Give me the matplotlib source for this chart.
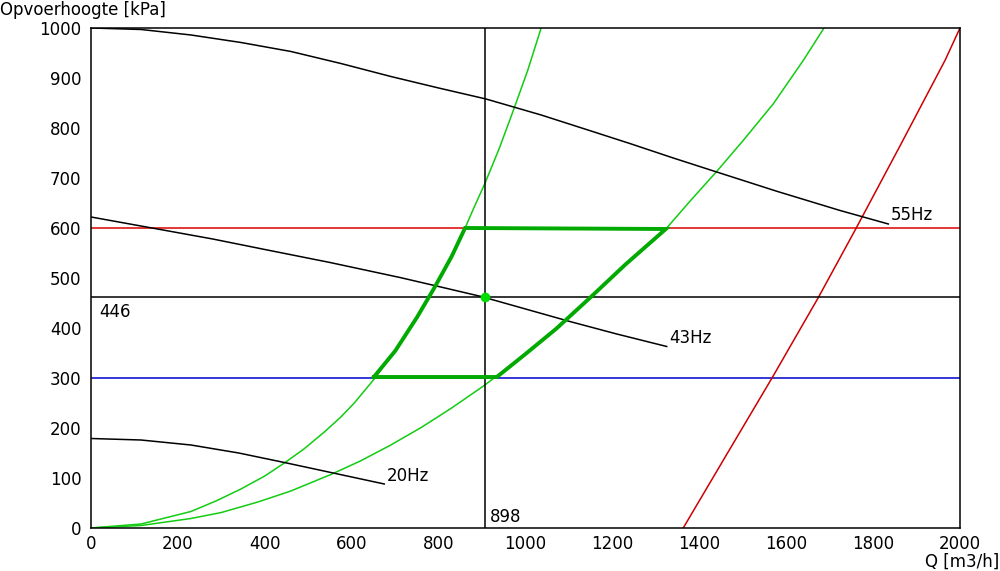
import numpy as np
import matplotlib
matplotlib.use("Agg")
import matplotlib.pyplot as plt

# pump curves (Q [m3/h], H [kPa])
q55 = [0, 115, 230, 345, 460, 575, 690, 800, 909, 1036, 1140, 1240, 1340, 1440, 1580, 1724, 1835]
h55 = [1000, 997, 986, 971, 953, 929, 903, 880, 858, 826, 797, 769, 740, 712, 673, 635, 608]
q43 = [0, 153, 280, 400, 550, 711, 800, 898, 1000, 1102, 1210, 1325]
h43 = [622, 598, 578, 557, 531, 501, 483, 463, 438, 413, 388, 363]
q20 = [0, 115, 230, 340, 445, 552, 675]
h20 = [179, 176, 166, 150, 131, 111, 88]

# system curves
qsys1 = [0, 115, 230, 290, 345, 400, 445, 490, 537, 575, 606, 648, 700, 750, 790, 830,
         861, 880, 907, 940, 972, 1005, 1036]
hsys1 = [0, 8, 33, 55, 78, 104, 130, 158, 192, 222, 250, 294, 354, 421, 480, 543,
         600, 638, 690, 760, 835, 915, 1000]
qsys2 = [0, 115, 230, 300, 384, 460, 552, 620, 690, 760, 830, 905, 1000, 1070, 1148, 1230,
         1323, 1380, 1440, 1500, 1570, 1640, 1687]
hsys2 = [0, 5, 19, 31, 52, 74, 107, 134, 166, 201, 240, 285, 348, 398, 460, 527,
         598, 655, 713, 774, 848, 936, 1000]

# red limit curve
qlim = [1363, 1465, 1568, 1674, 1760, 1860, 1920, 1966, 2000]
hlim = [0, 150, 301, 461, 598, 761, 860, 936, 1000]

# working area (bounded by 600 / 300 kPa and the two system curves)
qarea = [651, 934, 1000, 1070, 1148, 1230, 1323, 861, 830, 790, 750, 700, 651]
harea = [302, 302, 348, 398, 460, 527, 598, 600, 543, 480, 421, 354, 302]

h_max, h_min = 600, 300
q_op, h_op = 907, 462
q_op_label, h_op_label = "898", "446"

fig = plt.figure(figsize=(10, 5.71), dpi=100)
ax = fig.add_axes([0.091, 0.0753, 0.869, 0.8757])

green = "#11cc11"
ax.plot(qsys1, hsys1, color=green, lw=1.1)
ax.plot(qsys2, hsys2, color=green, lw=1.1)
ax.axhline(h_max, color="#dd0000", lw=1.1)
ax.axhline(h_min, color="#0000cc", lw=1.1)
ax.plot(qlim, hlim, color="#cc0000", lw=1.1)
ax.axhline(h_op, color="black", lw=1.1)
ax.axvline(q_op, color="black", lw=1.1)
ax.plot(q55, h55, color="black", lw=1.1)
ax.plot(q43, h43, color="black", lw=1.1)
ax.plot(q20, h20, color="black", lw=1.1)
ax.plot(qarea, harea, color="#00aa00", lw=2.8, solid_joinstyle="miter")
ax.plot([q_op], [h_op], "o", color="#00dd00", ms=7, mec="none")

fs = 12
# frequency labels just above the end of each curve
for q, h, lab in [(q55, h55, "55Hz"), (q43, h43, "43Hz"), (q20, h20, "20Hz")]:
    ax.text(q[-1] + 5, h[-1] + 17, lab, fontsize=fs, va="center", ha="left")
ax.text(18, h_op - 12, h_op_label, fontsize=fs, va="top", ha="left")
ax.text(q_op + 10, 5, q_op_label, fontsize=fs, va="bottom", ha="left")

ax.set_xlim(0, 2000)
ax.set_ylim(0, 1000)
ax.set_xticks(np.arange(0, 2001, 200))
ax.set_yticks(np.arange(0, 1001, 100))
ax.tick_params(length=0, labelsize=fs, pad=5)
ax.tick_params(axis="y", pad=7)
for s in ax.spines.values():
    s.set_linewidth(1.1)

fig.text(0.0, 0.999, "Opvoerhoogte [kPa]", fontsize=fs, va="top", ha="left")
fig.text(0.999, 0.0, "Q [m3/h]", fontsize=fs, va="bottom", ha="right")

fig.savefig("out.png", dpi=100)
